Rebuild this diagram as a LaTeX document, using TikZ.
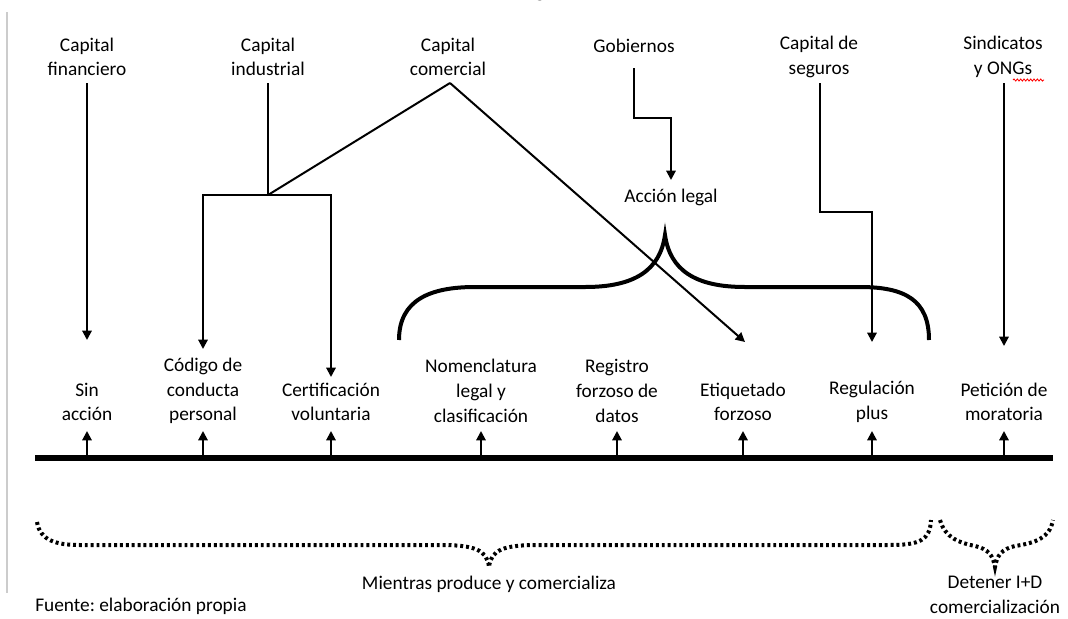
\documentclass[tikz,border=0pt]{standalone}
\usepackage{fontspec}
\setmainfont{Carlito}
\usetikzlibrary{arrows.meta,decorations.pathmorphing}
\frenchspacing
\tikzset{
  lbl/.style={align=center,font=\fontsize{14.5}{18.5}\selectfont,inner sep=0pt},
  conn/.style={line width=1.5pt},
  arr/.style={conn,-{Triangle[width=7pt,length=7pt]}},
  brace/.style={line width=3pt},
  dbrace/.style={line width=3pt,dash pattern=on 2.2pt off 2.2pt},
}
\begin{document}
\begin{tikzpicture}[x=0.75pt,y=-0.75pt]
\useasboundingbox (0,0) rectangle (1068,618);
\fill[white] (0,0) rectangle (1068,618);
% page border
\draw[gray!40,line width=1pt] (7,12) -- (7,593);
% clipped title fragment
\node[lbl,anchor=base] (title) at (540,-3) {g};
% top labels
\node[lbl] (fin) at (87,57) {Capital\\financiero};
\node[lbl] (ind) at (268,57) {Capital\\industrial};
\node[lbl] (com) at (448,57) {Capital\\comercial};
\node[lbl] (gob) at (634,46) {Gobiernos};
\node[lbl] (seg) at (819,57) {Capital de\\seguros};
\node[lbl] (sin) at (1003,57) {Sindicatos\\y ONGs};
\draw[red,line width=0.6pt,decorate,decoration={snake,amplitude=0.8pt,segment length=2.5pt}] (1013,80) -- (1044,80);
% middle label
\node[lbl] (acc) at (671,197) {Acción legal};
% bottom labels
\node[lbl] (b1) at (87,402) {Sin\\acción};
\node[lbl] (b2) at (203,391) {Código de\\conducta\\personal};
\node[lbl] (b3) at (331,402) {Certificación\\voluntaria};
\node[lbl] (b4) at (481,391) {Nomenclatura\\legal y\\clasificación};
\node[lbl] (b5) at (617,391) {Registro\\forzoso de\\datos};
\node[lbl] (b6) at (743,402) {Etiquetado\\forzoso};
\node[lbl] (b7) at (872,402) {Regulación\\plus};
\node[lbl] (b8) at (1004,402) {Petición de\\moratoria};
% coordinates
\coordinate (tl) at (35,458);
\coordinate (tr) at (1053,458);
\coordinate (jn) at (268,195);
\coordinate (apex) at (450,83);
% top connectors
\draw[arr] (87,83) -- (87,340);
\draw[conn] (268,83) -- (jn);
\draw[arr] (jn) -| (203,349);
\draw[arr] (jn) -| (331,377);
\draw[conn] (jn) -- (apex);
\draw[arr] (apex) -- (745,342);
\draw[arr] (634,68) |- (671,118) -- (671,180);
\draw[arr] (820,83) |- (872,212) -- (872,342);
\draw[arr] (1004,83) -- (1004,346);
% solid brace
\draw[brace] (399,340) .. controls (399,300) and (430,287) .. (475,287)
  -- (585,287) .. controls (635,287) and (660,270) .. (665,235)
  .. controls (670,270) and (695,287) .. (745,287)
  -- (860,287) .. controls (905,287) and (929,300) .. (929,340);
% timeline
\draw[line width=4pt] (tl) -- (tr);
\foreach \x in {87,203,331,481,617,743,872,1004}{
  \draw[arr] (\x,458) -- (\x,431);
}
% dotted braces
\draw[dbrace] (37,522) .. controls (40,540) and (55,545) .. (80,545)
  -- (440,545) .. controls (475,545) and (487,550) .. (489,567)
  .. controls (491,550) and (503,545) .. (538,545)
  -- (890,545) .. controls (920,545) and (930,540) .. (931,520);
\draw[dbrace] (940,520) .. controls (945,538) and (960,543) .. (975,546)
  .. controls (988,549) and (993,555) .. (995,567)
  .. controls (997,555) and (1002,549) .. (1015,546)
  .. controls (1035,543) and (1050,538) .. (1053,520);
% bottom texts
\node[lbl] (mp) at (489,584) {Mientras produce y comercializa};
\node[lbl] (dt) at (995,595) {Detener I+D\\comercialización};
\node[lbl,anchor=west] (fu) at (35,606) {Fuente: elaboración propia};
\end{tikzpicture}
\end{document}
